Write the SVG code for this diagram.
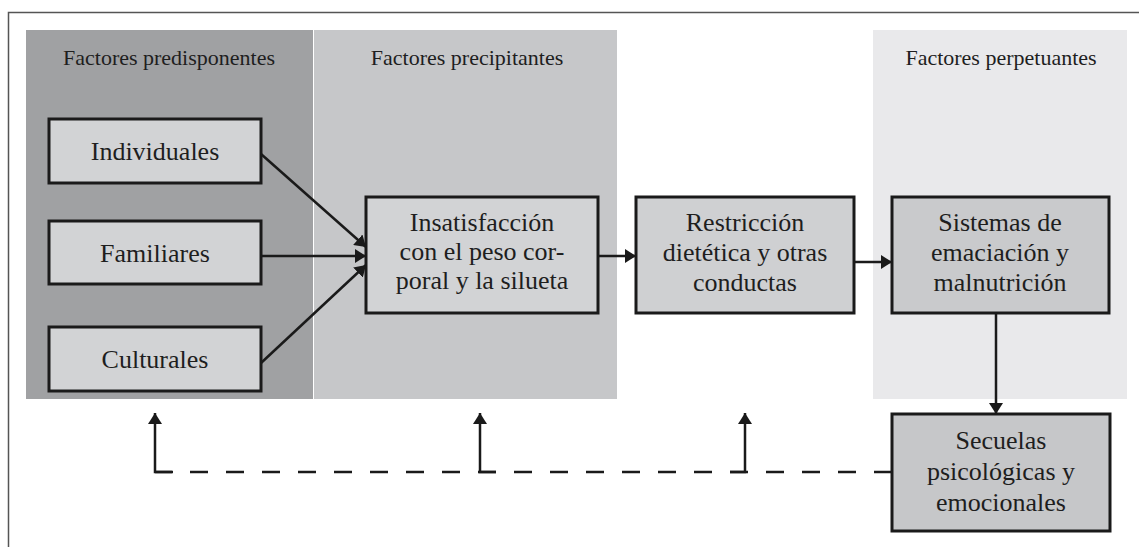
<svg xmlns="http://www.w3.org/2000/svg" width="1139" height="547" viewBox="0 0 1139 547">
<defs>
<marker id="ah" markerUnits="userSpaceOnUse" markerWidth="12" markerHeight="14" refX="11" refY="7" orient="auto">
<path d="M0,0 L11,7 L0,14 z" fill="#1a1a1a"/>
</marker>
<style>
.t{font-family:"Liberation Serif","Times New Roman",serif;fill:#1e1e1e;text-anchor:middle}
.title{font-size:22px}
.lbl{font-size:26px}
.box{stroke:#1a1a1a;stroke-width:3}
.con{stroke:#1a1a1a;stroke-width:2.5;fill:none}
.dash{stroke:#1a1a1a;stroke-width:2.5;fill:none;stroke-dasharray:18 18}
</style>
</defs>
<rect width="1139" height="547" fill="#ffffff"/>
<path d="M8.5,547 V12.5 H1139" fill="none" stroke="#555" stroke-width="1.5"/>
<g id="panels">
<rect x="26" y="30" width="287" height="369" fill="#a0a1a3"/>
<rect x="314" y="30" width="303" height="369" fill="#c6c7c9"/>
<rect x="873" y="30" width="254" height="369" fill="#e9e9eb"/>
<text class="t title" x="169" y="65">Factores predisponentes</text>
<text class="t title" x="467" y="65">Factores precipitantes</text>
<text class="t title" x="1001" y="65">Factores perpetuantes</text>
</g>
<g id="individuales">
<rect class="box" x="49" y="119" width="212" height="64" fill="#d2d3d5"/>
<text class="t lbl" x="155" y="160">Individuales</text>
</g>
<g id="familiares">
<rect class="box" x="49" y="221" width="212" height="63" fill="#d2d3d5"/>
<text class="t lbl" x="155" y="262">Familiares</text>
</g>
<g id="culturales">
<rect class="box" x="49" y="327" width="212" height="64" fill="#d2d3d5"/>
<text class="t lbl" x="155" y="368">Culturales</text>
</g>
<g id="insatisfaccion">
<rect class="box" x="366" y="197" width="232" height="116" fill="#d2d3d5"/>
<text class="t lbl" x="482" y="231">Insatisfacción</text>
<text class="t lbl" x="482" y="260">con el peso cor-</text>
<text class="t lbl" x="482" y="289">poral y la silueta</text>
</g>
<g id="restriccion">
<rect class="box" x="636" y="197" width="218" height="116" fill="#cfd0d2"/>
<text class="t lbl" x="745" y="231">Restricción</text>
<text class="t lbl" x="745" y="261">dietética y otras</text>
<text class="t lbl" x="745" y="291">conductas</text>
</g>
<g id="sistemas">
<rect class="box" x="892" y="197" width="217" height="116" fill="#c9cacc"/>
<text class="t lbl" x="1000" y="231">Sistemas de</text>
<text class="t lbl" x="1000" y="261">emaciación y</text>
<text class="t lbl" x="1000" y="291">malnutrición</text>
</g>
<g id="secuelas">
<rect class="box" x="892" y="414" width="218" height="117" fill="#c6c7c9"/>
<text class="t lbl" x="1001" y="449">Secuelas</text>
<text class="t lbl" x="1001" y="480">psicológicas y</text>
<text class="t lbl" x="1001" y="511">emocionales</text>
</g>
<g id="connectors">
<line class="con" x1="261" y1="154" x2="366" y2="247" marker-end="url(#ah)"/>
<line class="con" x1="261" y1="256" x2="366" y2="256" marker-end="url(#ah)"/>
<line class="con" x1="261" y1="363" x2="366" y2="265" marker-end="url(#ah)"/>
<line class="con" x1="598" y1="256" x2="636" y2="256" marker-end="url(#ah)"/>
<line class="con" x1="854" y1="262" x2="892" y2="262" marker-end="url(#ah)"/>
<line class="con" x1="996" y1="313" x2="996" y2="414" marker-end="url(#ah)"/>
<path class="dash" d="M892,472 H155"/>
<path class="con" d="M173,472 H155 V413" marker-end="url(#ah)"/>
<path class="con" d="M496,472 H480 V413" marker-end="url(#ah)"/>
<path class="con" d="M730,472 H745 V413" marker-end="url(#ah)"/>
</g>
</svg>
